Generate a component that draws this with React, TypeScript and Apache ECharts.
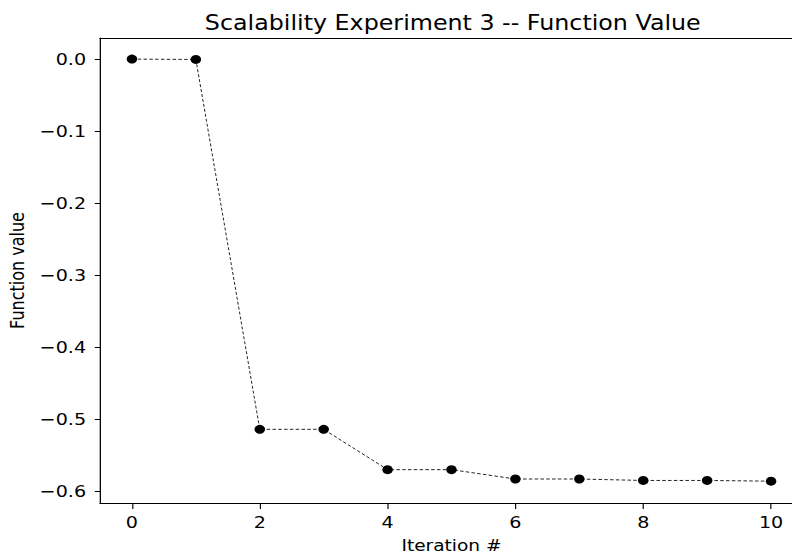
import React, { useEffect, useRef } from "react";
import * as echarts from "echarts";

const iterations = [0, 1, 2, 3, 4, 5, 6, 7, 8, 9, 10];
const functionValues = [0.0, -0.0005, -0.514, -0.514, -0.57, -0.57, -0.583, -0.583, -0.585, -0.585, -0.586];
const xTicks = [0, 2, 4, 6, 8, 10];
const yTicks = [0, -0.1, -0.2, -0.3, -0.4, -0.5, -0.6];

const FONT = "DejaVu Sans";
// the reference picture is stretched horizontally
const SX = 1.16;

function fmtY(v: number) {
  const s = Math.abs(v).toFixed(1);
  return v < -1e-9 ? "\u2212" + s : s;
}

export default function App() {
  const ref = useRef<HTMLDivElement>(null);
  useEffect(() => {
    const chart = echarts.init(ref.current!, null, { renderer: "svg" });
    chart.setOption({
      animation: false,
      backgroundColor: "#fff",
      title: {
        text: "Scalability Experiment 3 -- Function Value",
        left: 447 / SX,
        textAlign: "center",
        top: 7,
        textStyle: { fontFamily: FONT, fontSize: 20.5, fontWeight: "normal", color: "#000" },
      },
      grid: {
        left: 100 / SX,
        top: 38,
        width: 703 / SX,
        height: 465,
        show: false,
        containLabel: false,
        outerBoundsMode: "none",
      },
      xAxis: [
        {
          type: "value",
          min: -0.5,
          max: 10.5,
          name: "Iteration #",
          nameLocation: "middle",
          nameGap: 34,
          nameTextStyle: { fontFamily: FONT, fontSize: 16, color: "#000" },
          axisLine: { show: true, onZero: false, lineStyle: { color: "#000", width: 1.2 } },
          axisTick: { show: true, customValues: xTicks, length: 6, lineStyle: { color: "#000" } },
          axisLabel: {
            customValues: xTicks,
            fontFamily: FONT,
            fontSize: 16.5,
            color: "#000",
            margin: 10.5,
          },
          splitLine: { show: false },
        },
        {
          type: "value",
          position: "top",
          min: -0.5,
          max: 10.5,
          axisLine: { show: true, onZero: false, lineStyle: { color: "#000", width: 1.2 } },
          axisTick: { show: false },
          axisLabel: { show: false },
          splitLine: { show: false },
        },
      ],
      yAxis: {
        type: "value",
        min: -0.6163,
        max: 0.0293,
        name: "Function value",
        nameLocation: "middle",
        nameGap: 56,
        nameRotate: 90,
        nameTextStyle: { fontFamily: FONT, fontSize: 16, color: "#000" },
        axisLine: { show: true, onZero: false, lineStyle: { color: "#000", width: 1.1 } },
        axisTick: { show: true, customValues: yTicks, length: 4.5, lineStyle: { color: "#000" } },
        axisLabel: {
          customValues: yTicks,
          formatter: (v: number) => fmtY(v),
          fontFamily: FONT,
          fontSize: 16.5,
          color: "#000",
          margin: 12,
        },
        splitLine: { show: false },
      },
      series: [
        {
          type: "line",
          xAxisIndex: 0,
          data: iterations.map((x, i) => [x, functionValues[i]]),
          symbol: "circle",
          symbolSize: 9,
          itemStyle: { color: "#000" },
          lineStyle: { color: "#000", width: 0.8, type: [3, 2] },
        },
      ],
    });
    return () => chart.dispose();
  }, []);
  return (
    <div
      style={{
        position: "fixed",
        left: 0,
        top: 0,
        width: 792,
        height: 554,
        overflow: "hidden",
        background: "#fff",
      }}
    >
      <div
        ref={ref}
        style={{
          width: 700,
          height: 554,
          transform: `scaleX(${SX})`,
          transformOrigin: "0 0",
        }}
      />
    </div>
  );
}
